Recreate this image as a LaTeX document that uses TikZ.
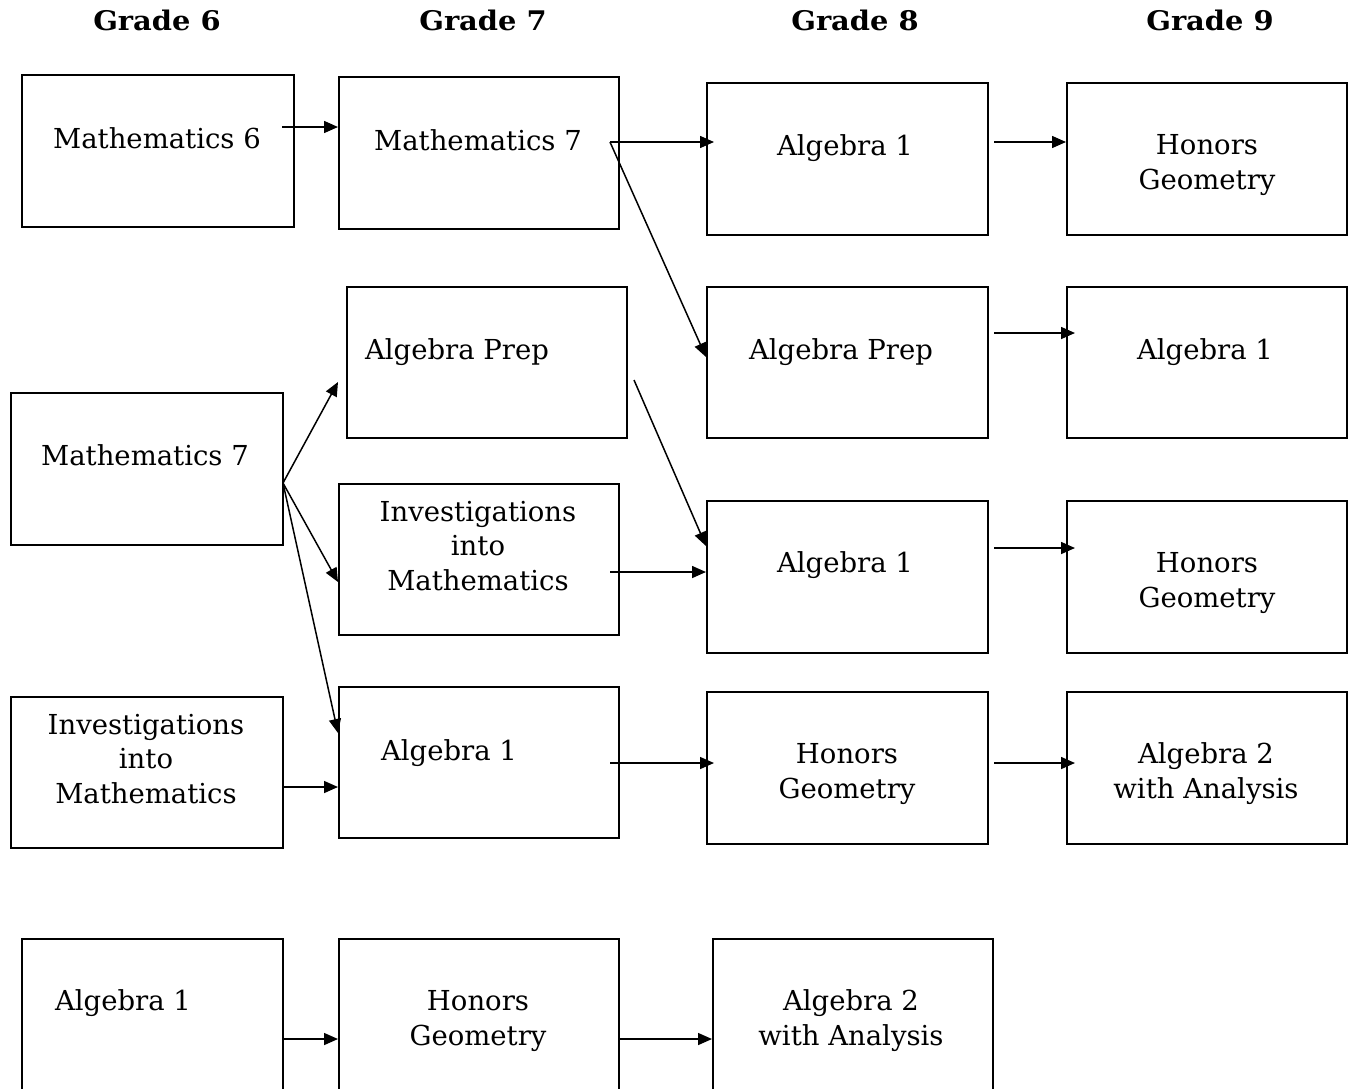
\documentclass[tikz,border=0pt]{standalone}
\usepackage{fontspec}
\setmainfont{DejaVu Serif}
\newfontfamily\hdrfont[FakeStretch=1.07]{DejaVu Serif Bold}
\usetikzlibrary{arrows.meta}
\tikzset{
  box/.style={draw=black, line width=1.8pt, rectangle, inner sep=0pt, anchor=north west},
  lbl/.style={anchor=base, align=center, inner sep=0pt, font=\fontsize{27.5}{34.5}\selectfont},
  hdr/.style={anchor=base, inner sep=0pt, font=\fontsize{27}{32}\hdrfont},
  arr/.style={line width=1.5pt, -{Triangle[length=14pt,width=12pt]}},
}
\newcommand{\bx}[5]{\node[box, minimum width=#4pt, minimum height=#5pt] (#1) at (#2,#3) {};}
\begin{document}
\begin{tikzpicture}[x=1pt,y=-1pt]
\clip (0,0) rectangle (1348,1088);
\fill[white] (0,0) rectangle (1348,1088);
% headers
\node[hdr] (h6) at (157,30.5) {Grade 6};
\node[hdr] (h7) at (483,30.5) {Grade 7};
\node[hdr] (h8) at (855,30.5) {Grade 8};
\node[hdr] (h9) at (1210,30.5) {Grade 9};
% boxes
\bx{A1}{21}{74}{272}{152}
\bx{B1}{338}{76}{280}{152}
\bx{C1}{706}{82}{281}{152}
\bx{D1}{1066}{82}{280}{152}
\bx{B2}{346}{286}{280}{151}
\bx{C2}{706}{286}{281}{151}
\bx{D2}{1066}{286}{280}{151}
\bx{A2}{10}{392}{272}{152}
\bx{B3}{338}{483}{280}{151}
\bx{C3}{706}{500}{281}{152}
\bx{D3}{1066}{500}{280}{152}
\bx{A3}{10}{696}{272}{151}
\bx{B4}{338}{686}{280}{151}
\bx{C4}{706}{691}{281}{152}
\bx{D4}{1066}{691}{280}{152}
\bx{A4}{21}{938}{261}{200}
\bx{B5}{338}{938}{280}{200}
\bx{C5}{712}{938}{280}{200}
% labels (anchor = baseline of the last line)
\node[lbl] (tA1) at (157,148) {Mathematics 6};
\node[lbl] (tB1) at (478,150) {Mathematics 7};
\node[lbl] (tC1) at (845,155) {Algebra 1};
\node[lbl] (tD1) at (1207,189) {Honors\\Geometry};
\node[lbl] (tB2) at (457,359) {Algebra Prep};
\node[lbl] (tC2) at (841,359) {Algebra Prep};
\node[lbl] (tD2) at (1205,359) {Algebra 1};
\node[lbl] (tA2) at (145,465) {Mathematics 7};
\node[lbl] (tB3) at (478,590) {Investigations\\into\\Mathematics};
\node[lbl] (tC3) at (845,572) {Algebra 1};
\node[lbl] (tD3) at (1207,607) {Honors\\Geometry};
\node[lbl] (tA3) at (146,803) {Investigations\\into\\Mathematics};
\node[lbl] (tB4) at (449,760) {Algebra 1};
\node[lbl] (tC4) at (847,798) {Honors\\Geometry};
\node[lbl] (tD4) at (1206,798) {Algebra 2\\with Analysis};
\node[lbl] (tA4) at (123,1010) {Algebra 1};
\node[lbl] (tB5) at (478,1045) {Honors\\Geometry};
\node[lbl] (tC5) at (851,1045) {Algebra 2\\with Analysis};
% arrow start coordinates
\coordinate (s1) at (282,127);
\coordinate (s2) at (610,142);
\coordinate (s3) at (994,142);
\coordinate (s4) at (994,333);
\coordinate (s5) at (634,380);
\coordinate (s6) at (610,572);
\coordinate (s7) at (994,548);
\coordinate (s8) at (610,763);
\coordinate (s9) at (994,763);
\coordinate (s10) at (283,483);
\coordinate (s11) at (283,787);
\coordinate (s12) at (283,1039);
\coordinate (s13) at (619,1039);
% arrows
\draw[arr] (s1) -- (B1.west |- s1);
\draw[arr] (s2) -- ([xshift=8pt]C1.west |- s2);
\draw[arr] (s2) -- (C2.west |- 0,357);
\draw[arr] (s3) -- (D1.west |- s3);
\draw[arr] (s4) -- ([xshift=9pt]D2.west |- s4);
\draw[arr] (s5) -- (C3.west |- 0,546);
\draw[arr] (s6) -- (C3.west |- s6);
\draw[arr] (s7) -- ([xshift=9pt]D3.west |- s7);
\draw[arr] (s8) -- ([xshift=8pt]C4.west |- s8);
\draw[arr] (s9) -- ([xshift=9pt]D4.west |- s9);
\draw[arr] (s10) -- (B3.west |- 0,382);
\draw[arr] (s10) -- (B3.west |- 0,582);
\draw[arr] (s10) -- (B4.west |- 0,733);
\draw[arr] (s11) -- (B4.west |- s11);
\draw[arr] (s12) -- (B5.west |- s12);
\draw[arr] (s13) -- (C5.west |- s13);
\end{tikzpicture}
\end{document}
